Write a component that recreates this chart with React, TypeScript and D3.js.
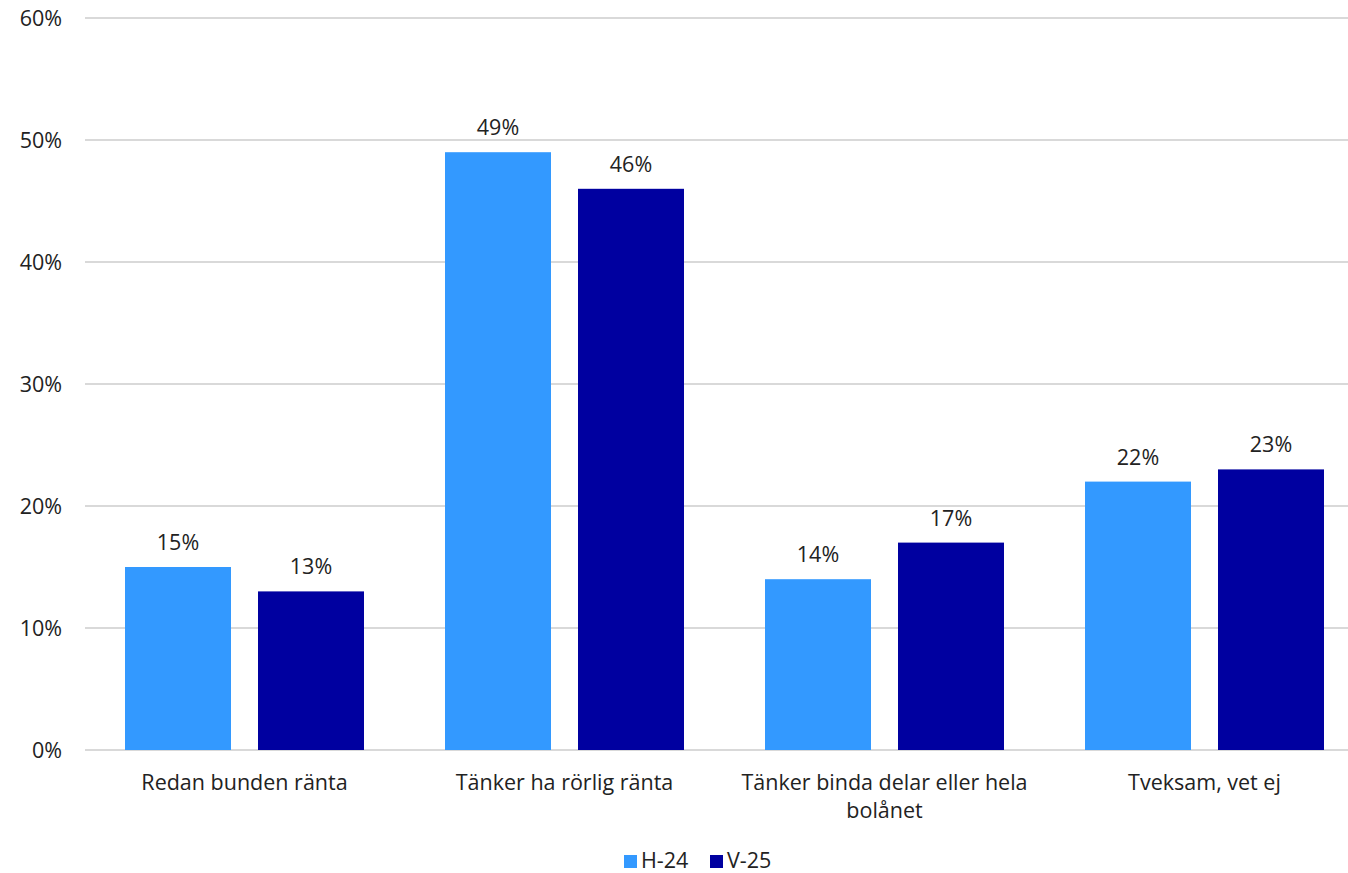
import React from "react";
import * as d3 from "d3";

const categories: string[][] = [
  ["Redan bunden ränta"],
  ["Tänker ha rörlig ränta"],
  ["Tänker binda delar eller hela", "bolånet"],
  ["Tveksam, vet ej"],
];
const seriesNames = ["H-24", "V-25"];
const seriesH24 = [15, 49, 14, 22];
const seriesV25 = [13, 46, 17, 23];
const yTicks = [0, 10, 20, 30, 40, 50, 60];
const colors = ["#3399FF", "#0000A0"];

const W = 1348;
const H = 873;
const FONT = "'Open Sans', sans-serif";
const FS = 21.5;

export default function App() {
  const y = d3.scaleLinear().domain([0, 60]).range([750, 18]);
  const x0 = d3
    .scaleBand<number>()
    .domain(categories.map((_, i) => i))
    .range([84.5, 1364.5])
    .padding(0);
  const x1 = d3
    .scaleBand<number>()
    .domain([0, 1])
    .range([40.5, 279.5])
    .paddingInner(0.203)
    .paddingOuter(0);
  const series = [seriesH24, seriesV25];

  return (
    <svg
      width={W}
      height={H}
      style={{ position: "absolute", left: 0, top: 0, background: "#fff" }}
      fontFamily={FONT}
    >
      {yTicks.map((t) => (
        <g key={t}>
          <line x1={85} x2={W} y1={y(t)} y2={y(t)} stroke="#d9d9d9" strokeWidth={2} />
          <text x={62} y={y(t)} dy="0.35em" textAnchor="end" fontSize={FS} fill="#222">
            {t}%
          </text>
        </g>
      ))}
      {categories.map((cat, ci) => (
        <g key={ci} transform={`translate(${x0(ci)},0)`}>
          {series.map((s, si) => (
            <g key={si}>
              <rect
                x={x1(si)}
                y={y(s[ci])}
                width={x1.bandwidth()}
                height={y(0) - y(s[ci])}
                fill={colors[si]}
              />
              <text
                x={(x1(si) as number) + x1.bandwidth() / 2}
                y={y(s[ci]) - 17}
                textAnchor="middle"
                fontSize={FS}
                fill="#222"
              >
                {s[ci]}%
              </text>
            </g>
          ))}
          {cat.map((line, li) => (
            <text
              key={li}
              x={x0.bandwidth() / 2}
              y={790 + li * 28}
              textAnchor="middle"
              fontSize={FS}
              fill="#222"
            >
              {line}
            </text>
          ))}
        </g>
      ))}
      {seriesNames.map((n, i) => (
        <g key={n} transform={`translate(${624 + i * 86},0)`}>
          <rect x={0} y={855} width={13} height={13} fill={colors[i]} />
          <text x={17} y={867.5} fontSize={FS} fill="#222">
            {n}
          </text>
        </g>
      ))}
    </svg>
  );
}
